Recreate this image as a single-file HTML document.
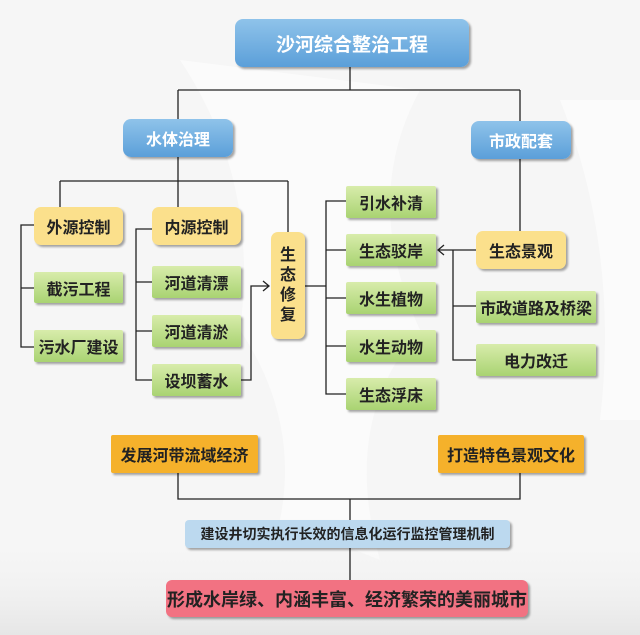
<!DOCTYPE html>
<html><head><meta charset="utf-8"><style>
body{margin:0;width:640px;height:635px;overflow:hidden;background:#f3f3f3;font-family:"Liberation Sans","Noto Sans CJK SC",sans-serif;}
.b{position:absolute;box-sizing:border-box;display:flex;align-items:center;justify-content:center;font-weight:bold;color:#222;border-radius:5px;box-shadow:2px 2px 2px rgba(0,0,0,.35);white-space:nowrap;}
.blue{background:linear-gradient(#8fc3ea,#5b9fd9);color:#fff;border-radius:8px;}
.yel{background:#fbe08c;border-radius:7px;font-size:16px;}
.grn{background:linear-gradient(#d8ecab,#a9d372);border-radius:2px;font-size:16px;}
.org{background:#f5b12b;border-radius:2px;font-size:16px;}
</style></head><body>
<svg width="640" height="635" style="position:absolute;left:0;top:0">
<defs><linearGradient id="bg" x1="0" y1="0" x2="0" y2="1"><stop offset="0.85" stop-color="#f3f3f3" stop-opacity="0"/><stop offset="1" stop-color="#e6e6e6"/></linearGradient></defs>
<rect width="640" height="635" fill="#f6f6f6"/>
<path d="M180 60 Q260 180 240 330 Q300 420 280 520 L380 560 Q340 420 420 330 Q360 200 420 90Z" fill="#fbfbfb"/>
<path d="M560 100 Q620 250 600 420 L640 420 L640 100Z" fill="#fbfbfb"/>
<rect width="640" height="635" fill="url(#bg)"/>
<g stroke="#222" stroke-width="1.3" fill="none">
<path d="M350 67V90M178 90H520M178 90V119M520 90V121"/>
<path d="M178 157V207M60 181H288M60 181V207M288 181V232"/>
<path d="M34 225H21V347H34M21 288H34"/>
<path d="M152 229H136V380H152M136 282H152M136 331H152"/>
<path d="M241 380H251V286H269M263 281L269 286L263 291"/>
<path d="M305 286H326M346 201H326V394H346M326 250H346M326 298H346M326 346H346"/>
<path d="M520 159V231M476 250H438M444 245L438 250L444 255M453 250V360H476M453 306H476"/>
<path d="M178 473V499H520V473M350 499V520M350 548V580"/>
</g></svg>
<div class="b blue" style="left:235px;top:19px;width:234px;height:48px;font-size:19px;">沙河综合整治工程</div>
<div class="b blue" style="left:123px;top:119px;width:110px;height:38px;font-size:16px;">水体治理</div>
<div class="b blue" style="left:471px;top:121px;width:100px;height:38px;font-size:16px;">市政配套</div>
<div class="b yel" style="left:34px;top:207px;width:89px;height:38px;">外源控制</div>
<div class="b yel" style="left:152px;top:207px;width:89px;height:38px;">内源控制</div>
<div class="b grn" style="left:34px;top:272px;width:89px;height:31px;">截污工程</div>
<div class="b grn" style="left:34px;top:330px;width:89px;height:32px;">污水厂建设</div>
<div class="b grn" style="left:152px;top:266px;width:89px;height:32px;">河道清漂</div>
<div class="b grn" style="left:152px;top:315px;width:89px;height:32px;">河道清淤</div>
<div class="b grn" style="left:152px;top:364px;width:89px;height:32px;">设坝蓄水</div>
<div class="b yel" style="left:271px;top:232px;width:34px;height:107px;white-space:normal;line-height:20px;text-align:center;padding:0 8px;">生态修复</div>
<div class="b grn" style="left:346px;top:186px;width:90px;height:32px;">引水补清</div>
<div class="b grn" style="left:346px;top:234px;width:90px;height:32px;">生态驳岸</div>
<div class="b grn" style="left:346px;top:282px;width:90px;height:32px;">水生植物</div>
<div class="b grn" style="left:346px;top:330px;width:90px;height:32px;">水生动物</div>
<div class="b grn" style="left:346px;top:378px;width:90px;height:32px;">生态浮床</div>
<div class="b yel" style="left:476px;top:231px;width:90px;height:38px;">生态景观</div>
<div class="b grn" style="left:476px;top:291px;width:120px;height:32px;">市政道路及桥梁</div>
<div class="b grn" style="left:476px;top:344px;width:120px;height:32px;">电力改迁</div>
<div class="b org" style="left:111px;top:435px;width:147px;height:38px;">发展河带流域经济</div>
<div class="b org" style="left:438px;top:435px;width:146px;height:38px;">打造特色景观文化</div>
<div class="b" style="left:185px;top:520px;width:325px;height:28px;background:#bcd9ef;font-size:14px;border-radius:4px;">建设井切实执行长效的信息化运行监控管理机制</div>
<div class="b" style="left:166px;top:580px;width:362px;height:37px;background:#f27282;font-size:18px;border-radius:6px;">形成水岸绿、内涵丰富、经济繁荣的美丽城市</div>
</body></html>
